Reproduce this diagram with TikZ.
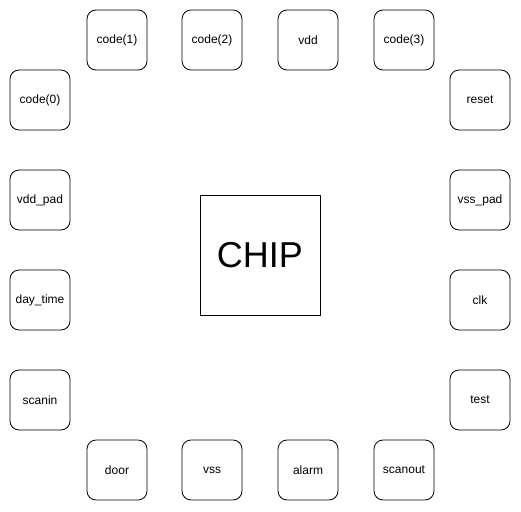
\documentclass[tikz,border=0pt]{standalone}
\usepackage{fontspec}
\setmainfont{Liberation Sans}
\begin{document}
\begin{tikzpicture}[x=1pt,y=-1pt,
  pin/.style={draw,line width=0.8pt,rounded corners=9pt,minimum width=60pt,minimum height=60pt,inner sep=0pt,font=\fontsize{12}{14}\selectfont},
  chipbox/.style={draw,line width=0.8pt,minimum width=120pt,minimum height=120pt,inner sep=0pt,font=\fontsize{36}{40}\selectfont}]
\useasboundingbox (0,0) rectangle (521,511);
\node[pin] (c1) at (117,40) {code(1)};
\node[pin] (c2) at (212,40) {code(2)};
\node[pin] (vdd) at (308,40) {vdd};
\node[pin] (c3) at (404,40) {code(3)};
\node[pin] (c0) at (40,100) {code(0)};
\node[pin] (vddpad) at (40,200) {vdd\_pad};
\node[pin] (day) at (40,300) {day\_time};
\node[pin] (scanin) at (40,400) {scanin};
\node[pin] (reset) at (480,100) {reset};
\node[pin] (vsspad) at (480,200) {vss\_pad};
\node[pin] (clk) at (480,300) {clk};
\node[pin] (test) at (480,400) {test};
\node[pin] (door) at (117,470) {door};
\node[pin] (vss) at (212,470) {vss};
\node[pin] (alarm) at (308,470) {alarm};
\node[pin] (scanout) at (404,470) {scanout};
\node[chipbox] (chip) at (260,255) {CHIP};
\end{tikzpicture}
\end{document}
